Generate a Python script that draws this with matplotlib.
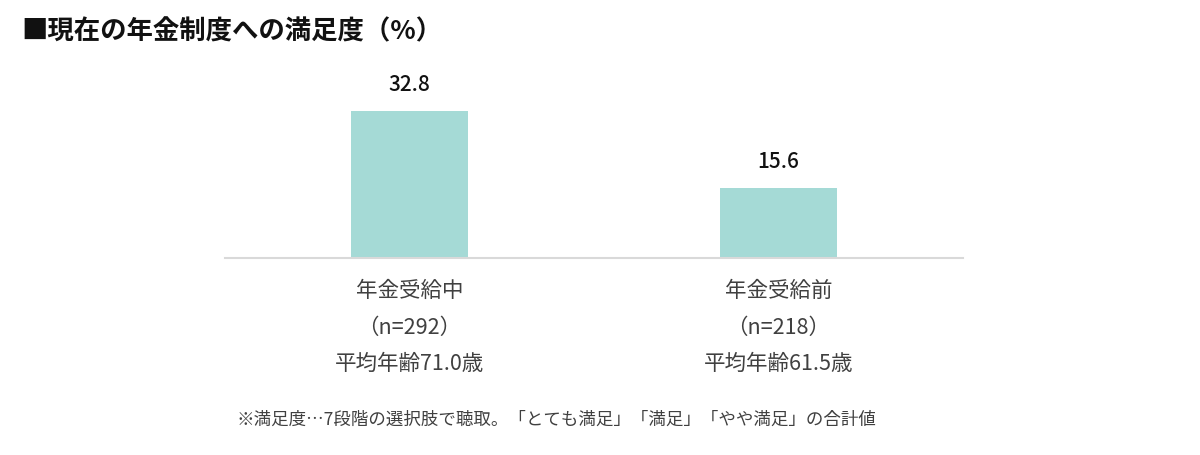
import matplotlib.pyplot as plt

plt.rcParams['font.family'] = ['Noto Sans CJK JP', 'DejaVu Sans']

categories = ['年金受給中\n（n=292）\n平均年齢71.0歳', '年金受給前\n（n=218）\n平均年齢61.5歳']
values = [32.8, 15.6]
title = '■現在の年金制度への満足度（%）'
footnote = '※満足度…7段階の選択肢で聴取。「とても満足」「満足」「やや満足」の合計値'

fig = plt.figure(figsize=(12, 4.55), dpi=100)
ax = fig.add_axes([0.1875, 0.433, 0.615, 0.394])

x = range(len(values))
ax.bar(x, values, width=0.315, color='#A5DAD6')
ax.set_xlim(-0.5, 1.5)
ax.set_ylim(0, 40)

for xi, v in zip(x, values):
    ax.annotate(f'{v:.1f}', (xi, v), xytext=(0, 11), textcoords='offset points',
                ha='center', va='bottom', fontsize=15, fontweight='medium', color='#111111')

ax.set_yticks([])
ax.set_xticks(list(x))
ax.set_xticklabels(categories, fontsize=15.5, color='#404040', linespacing=1.84)
ax.tick_params(axis='x', length=0, pad=16)
for s in ['top', 'right', 'left']:
    ax.spines[s].set_visible(False)
ax.spines['bottom'].set_color('#D9D9D9')
ax.spines['bottom'].set_linewidth(1.5)

fig.text(0.018, 0.93, title, fontsize=19, fontweight='bold', color='#111111', va='center')
fig.text(0.464, 0.077, footnote, fontsize=12.6, color='#404040', ha='center', va='center')

fig.savefig('out.png', dpi=100)
